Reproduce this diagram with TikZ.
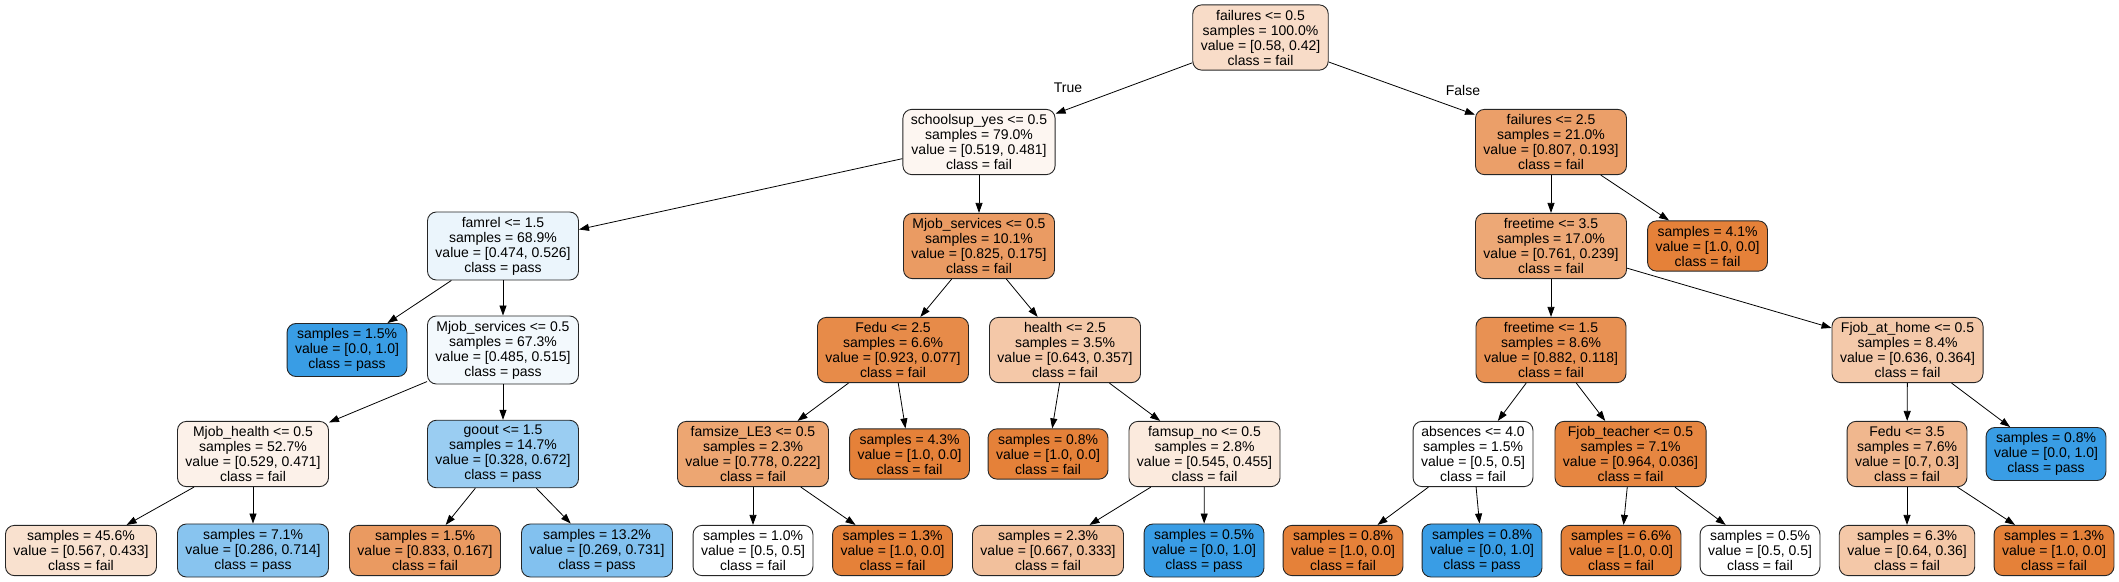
\documentclass[tikz,border=0pt]{standalone}
\usepackage{fontspec}
\setmainfont{Liberation Sans}
\usepackage{tikz}
\usetikzlibrary{arrows.meta}
\definecolor{failc}{RGB}{229,129,57}
\definecolor{passc}{RGB}{57,157,229}

\begin{document}
\begin{tikzpicture}[x=1pt, y=-1pt,
		box/.style = {draw = black!85, line width = 0.9pt, rounded corners = 9pt, align = center,
			inner xsep = 8pt, inner ysep = 5pt, font = \fontsize{14}{15}\selectfont},
		edge/.style = {line width = 0.8pt, -{Triangle[length = 10pt, width = 7pt]}},
		lbl/.style = {font = \fontsize{14}{15}\selectfont}]
	\useasboundingbox (0, 0) rectangle (2119, 581);
	% level 0 and 1
	\node[box, fill = failc!28] (root) at (1260.5, 37.5) {failures <= 0.5\\samples = 100.0\%\\value = [0.58, 0.42]\\class = fail};
	\node[box, fill = failc!7] (school) at (979, 142) {schoolsup\_yes <= 0.5\\samples = 79.0\%\\value = [0.519, 0.481]\\class = fail};
	\node[box, fill = failc!76] (failtwo) at (1551, 142) {failures <= 2.5\\samples = 21.0\%\\value = [0.807, 0.193]\\class = fail};
	% level 2
	\node[box, fill = passc!10] (famrel) at (503, 246) {famrel <= 1.5\\samples = 68.9\%\\value = [0.474, 0.526]\\class = pass};
	\node[box, fill = failc!79] (mserv) at (979, 246) {Mjob\_services <= 0.5\\samples = 10.1\%\\value = [0.825, 0.175]\\class = fail};
	\node[box, fill = failc!69] (freethree) at (1551, 246) {freetime <= 3.5\\samples = 17.0\%\\value = [0.761, 0.239]\\class = fail};
	\node[box, fill = failc] (leafa) at (1707.5, 246) {samples = 4.1\%\\value = [1.0, 0.0]\\class = fail};
	% level 3
	\node[box, fill = passc] (leafb) at (347, 350) {samples = 1.5\%\\value = [0.0, 1.0]\\class = pass};
	\node[box, fill = passc!6] (mservb) at (503, 350) {Mjob\_services <= 0.5\\samples = 67.3\%\\value = [0.485, 0.515]\\class = pass};
	\node[box, fill = failc!92] (fedutwo) at (893, 350) {Fedu <= 2.5\\samples = 6.6\%\\value = [0.923, 0.077]\\class = fail};
	\node[box, fill = failc!44] (health) at (1065, 350) {health <= 2.5\\samples = 3.5\%\\value = [0.643, 0.357]\\class = fail};
	\node[box, fill = failc!87] (freeone) at (1551, 350) {freetime <= 1.5\\samples = 8.6\%\\value = [0.882, 0.118]\\class = fail};
	\node[box, fill = failc!43] (fhome) at (1907.5, 350) {Fjob\_at\_home <= 0.5\\samples = 8.4\%\\value = [0.636, 0.364]\\class = fail};
	% level 4
	\node[box, fill = failc!11] (mhealth) at (253, 454) {Mjob\_health <= 0.5\\samples = 52.7\%\\value = [0.529, 0.471]\\class = fail};
	\node[box, fill = passc!51] (goout) at (503, 454) {goout <= 1.5\\samples = 14.7\%\\value = [0.328, 0.672]\\class = pass};
	\node[box, fill = failc!71] (famsize) at (753, 454) {famsize\_LE3 <= 0.5\\samples = 2.3\%\\value = [0.778, 0.222]\\class = fail};
	\node[box, fill = failc] (leafc) at (909.5, 454) {samples = 4.3\%\\value = [1.0, 0.0]\\class = fail};
	\node[box, fill = failc] (leafd) at (1048, 454) {samples = 0.8\%\\value = [1.0, 0.0]\\class = fail};
	\node[box, fill = failc!17] (famsup) at (1204.5, 454) {famsup\_no <= 0.5\\samples = 2.8\%\\value = [0.545, 0.455]\\class = fail};
	\node[box, fill = white] (absences) at (1473, 454) {absences <= 4.0\\samples = 1.5\%\\value = [0.5, 0.5]\\class = fail};
	\node[box, fill = failc!96] (fteacher) at (1630.5, 454) {Fjob\_teacher <= 0.5\\samples = 7.1\%\\value = [0.964, 0.036]\\class = fail};
	\node[box, fill = failc!57] (fedothree) at (1907, 454) {Fedu <= 3.5\\samples = 7.6\%\\value = [0.7, 0.3]\\class = fail};
	\node[box, fill = passc] (leafe) at (2046, 454) {samples = 0.8\%\\value = [0.0, 1.0]\\class = pass};
	% level 5
	\node[box, fill = failc!24] (leaff) at (81, 550.5) {samples = 45.6\%\\value = [0.567, 0.433]\\class = fail};
	\node[box, fill = passc!60] (leafg) at (253, 550.5) {samples = 7.1\%\\value = [0.286, 0.714]\\class = pass};
	\node[box, fill = failc!80] (leafh) at (425, 550.5) {samples = 1.5\%\\value = [0.833, 0.167]\\class = fail};
	\node[box, fill = passc!63] (leafi) at (597, 550.5) {samples = 13.2\%\\value = [0.269, 0.731]\\class = pass};
	\node[box, fill = white] (leafj) at (753, 550.5) {samples = 1.0\%\\value = [0.5, 0.5]\\class = fail};
	\node[box, fill = failc] (leafk) at (892.5, 550.5) {samples = 1.3\%\\value = [1.0, 0.0]\\class = fail};
	\node[box, fill = failc!50] (leafl) at (1048, 550.5) {samples = 2.3\%\\value = [0.667, 0.333]\\class = fail};
	\node[box, fill = passc] (leafm) at (1204, 550.5) {samples = 0.5\%\\value = [0.0, 1.0]\\class = pass};
	\node[box, fill = failc] (leafn) at (1343, 550.5) {samples = 0.8\%\\value = [1.0, 0.0]\\class = fail};
	\node[box, fill = passc] (leafo) at (1482, 550.5) {samples = 0.8\%\\value = [0.0, 1.0]\\class = pass};
	\node[box, fill = failc] (leafp) at (1621, 550.5) {samples = 6.6\%\\value = [1.0, 0.0]\\class = fail};
	\node[box, fill = white] (leafq) at (1760, 550.5) {samples = 0.5\%\\value = [0.5, 0.5]\\class = fail};
	\node[box, fill = failc!44] (leafr) at (1907, 550.5) {samples = 6.3\%\\value = [0.64, 0.36]\\class = fail};
	\node[box, fill = failc] (leafs) at (2054, 550.5) {samples = 1.3\%\\value = [1.0, 0.0]\\class = fail};
	% branch labels
	\node[lbl] (truelbl) at (1068, 88) {True};
	\node[lbl] (falselbl) at (1463, 90) {False};
	% edges
	\draw[edge] (root) -- (school);
	\draw[edge] (root) -- (failtwo);
	\draw[edge] (school) -- (famrel);
	\draw[edge] (school) -- (mserv);
	\draw[edge] (failtwo) -- (freethree);
	\draw[edge] (failtwo) -- (leafa);
	\draw[edge] (famrel) -- (leafb);
	\draw[edge] (famrel) -- (mservb);
	\draw[edge] (mserv) -- (fedutwo);
	\draw[edge] (mserv) -- (health);
	\draw[edge] (freethree) -- (freeone);
	\draw[edge] (freethree) -- (fhome);
	\draw[edge] (mservb) -- (mhealth);
	\draw[edge] (mservb) -- (goout);
	\draw[edge] (fedutwo) -- (famsize);
	\draw[edge] (fedutwo) -- (leafc);
	\draw[edge] (health) -- (leafd);
	\draw[edge] (health) -- (famsup);
	\draw[edge] (freeone) -- (absences);
	\draw[edge] (freeone) -- (fteacher);
	\draw[edge] (fhome) -- (fedothree);
	\draw[edge] (fhome) -- (leafe);
	\draw[edge] (mhealth) -- (leaff);
	\draw[edge] (mhealth) -- (leafg);
	\draw[edge] (goout) -- (leafh);
	\draw[edge] (goout) -- (leafi);
	\draw[edge] (famsize) -- (leafj);
	\draw[edge] (famsize) -- (leafk);
	\draw[edge] (famsup) -- (leafl);
	\draw[edge] (famsup) -- (leafm);
	\draw[edge] (absences) -- (leafn);
	\draw[edge] (absences) -- (leafo);
	\draw[edge] (fteacher) -- (leafp);
	\draw[edge] (fteacher) -- (leafq);
	\draw[edge] (fedothree) -- (leafr);
	\draw[edge] (fedothree) -- (leafs);
\end{tikzpicture}
\end{document}
